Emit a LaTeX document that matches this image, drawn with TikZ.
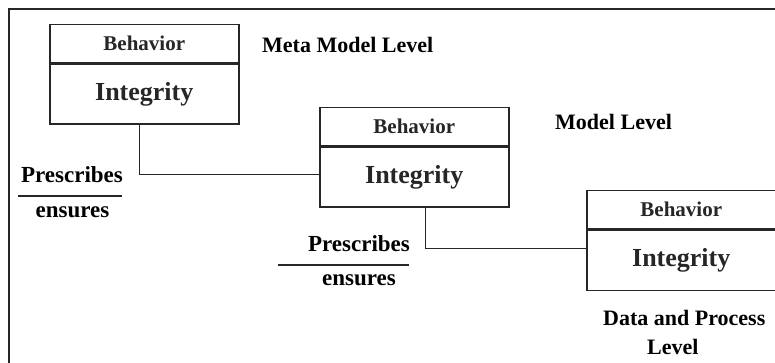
\documentclass[tikz,border=0pt]{standalone}
\usepackage{fontspec}
\setmainfont{Liberation Serif}
\usetikzlibrary{positioning}
\begin{document}
\begin{tikzpicture}[x=1pt,y=-1pt,
  frameline/.style={line width=1.3pt, black!85},
  boxline/.style={line width=1.5pt, black!85},
  headbox/.style={draw, boxline, minimum width=189pt, minimum height=38pt,
    inner sep=0pt, anchor=north west, font=\fontsize{21}{24}\selectfont\bfseries},
  bodybox/.style={draw, boxline, minimum width=189pt, minimum height=60pt,
    inner sep=0pt, anchor=north, font=\fontsize{26}{30}\selectfont\bfseries},
  lbl/.style={inner sep=0pt, font=\fontsize{22}{26}\selectfont\bfseries},
  rel/.style={inner sep=0pt, font=\fontsize{23}{26}\selectfont\bfseries},
  conn/.style={line width=1.4pt, black!85}]
\useasboundingbox (0,0) rectangle (775,363);

% outer frame (top and left sides)
\draw[frameline] (9,363) -- (9,9) -- (775,9);

% meta model level
\node[headbox] (b1h) at (49,24) {Behavior};
\node[bodybox] (b1i) at (b1h.south) {Integrity};
\node[lbl, anchor=west] (l1) at (262,45) {Meta Model Level};

% model level
\node[headbox] (b2h) at (319,107) {Behavior};
\node[bodybox] (b2i) at (b2h.south) {Integrity};
\node[lbl, anchor=west] (l2) at (555,122) {Model Level};

% data and process level
\node[headbox] (b3h) at (586,190) {Behavior};
\node[bodybox] (b3i) at (b3h.south) {Integrity};
\node[lbl, font=\fontsize{22}{26}\selectfont\bfseries, anchor=west] (l3a) at (603,318) {Data and Process};
\node[lbl, anchor=west] (l3b) at (647,347) {Level};

% connectors between levels
\draw[conn] ([xshift=-5pt]b1i.south) |- ([yshift=3pt]b2i.west);
\draw[conn] ([xshift=11.5pt]b2i.south) |- ([yshift=12pt]b3i.west);

% relation labels
\node[rel] (p1) at (72,175) {Prescribes};
\node[rel] (e1) at (72.5,212) {ensures};
\draw[conn] (18,196) -- (122,196);

\node[rel] (p2) at (359,244) {Prescribes};
\node[rel] (e2) at (359,280) {ensures};
\draw[conn] (278,265) -- (409,265);
\end{tikzpicture}
\end{document}
